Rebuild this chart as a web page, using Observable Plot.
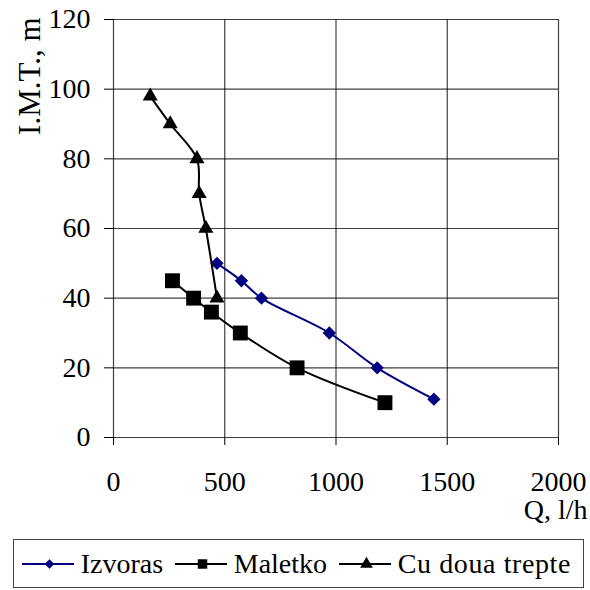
<!DOCTYPE html>
<html><head><meta charset="utf-8">
<script src="https://cdn.jsdelivr.net/npm/d3@7"></script>
<script src="https://cdn.jsdelivr.net/npm/@observablehq/plot@0.6"></script>
<style>
body{margin:0;background:#fff;font-family:"Liberation Serif","Tinos","Times New Roman","DejaVu Serif",serif;}
#chart{position:relative;width:590px;height:590px;overflow:hidden;}
#chart svg{display:block;}
#chart svg text{font-family:"Liberation Serif","Tinos","Times New Roman","DejaVu Serif",serif;}
#legend{position:absolute;left:13px;top:539px;width:571px;height:49px;border:1px solid #444;box-sizing:border-box;display:flex;align-items:center;font-size:28px;color:#000;padding-left:8px;white-space:nowrap;}
#legend .sw{display:block;margin-right:7px;}
#legend .lab{margin-right:12px;}
#legend .lab:last-child{letter-spacing:0.6px;}
</style></head>
<body>
<div id="chart"></div>
<script>
const seriesNames = ["Izvoras", "Maletko", "Cu doua trepte"];
const seriesColors = ["#000080", "#000000", "#000000"];
const seriesSymbols = ["diamond2", "square", "triangle"];
const izvorasQ = [465, 575, 665, 970, 1185, 1440];
const izvorasH = [50, 45, 40, 30, 20, 11];
const maletkoQ = [265, 360, 440, 570, 825, 1220];
const maletkoH = [45, 40, 36, 30, 20, 10];
const trepteQ = [165, 255, 375, 385, 415, 465];
const trepteH = [98, 90, 80, 70, 60, 40];
const xTicks = [0, 500, 1000, 1500, 2000];
const yTicks = [0, 20, 40, 60, 80, 100, 120];
const xTitle = "Q, l/h";
const yTitle = "I.M.T., m";

const seriesQ = [izvorasQ, maletkoQ, trepteQ];
const seriesH = [izvorasH, maletkoH, trepteH];
const symbolR = {diamond2: 6, square: 8.4, triangle: 5.6};
const FONT = "'Liberation Serif','Tinos','Times New Roman','DejaVu Serif',serif";

const marks = [
  Plot.gridX(xTicks, {stroke: "#000", strokeOpacity: 0.75, strokeWidth: 1.2}),
  Plot.gridY(yTicks, {stroke: "#000", strokeOpacity: 0.75, strokeWidth: 1.2}),
  Plot.axisX({ticks: xTicks, tickSize: 8, tickPadding: 26, label: null, fontSize: 28, tickFormat: d => String(d)}),
  Plot.axisY({ticks: yTicks, tickSize: 9, tickPadding: 14, label: null, fontSize: 28, tickFormat: d => String(d)}),
  Plot.text([xTitle], {frameAnchor: "bottom-right", textAnchor: "end", lineAnchor: "top", dx: 29, dy: 62, fontSize: 28}),
  Plot.text([yTitle], {frameAnchor: "top-left", textAnchor: "end", rotate: -90, dx: -96, dy: -2, fontSize: 31})
];
seriesNames.forEach((name, i) => {
  const rows = seriesQ[i].map((q, j) => ({q, h: seriesH[i][j]}));
  marks.push(Plot.line(rows, {x: "q", y: "h", stroke: seriesColors[i], strokeWidth: 2, curve: "catmull-rom"}));
  marks.push(Plot.dot(rows, {x: "q", y: "h", symbol: () => seriesSymbols[i], fill: seriesColors[i], stroke: "none", r: symbolR[seriesSymbols[i]]}));
});

const chart = Plot.plot({
  width: 590, height: 530,
  marginTop: 19, marginLeft: 113, marginRight: 32, marginBottom: 93,
  style: {fontFamily: FONT, fontSize: "28px", color: "#000", background: "#fff", overflow: "visible"},
  x: {domain: [0, 2000]},
  y: {domain: [0, 120]},
  symbol: {type: "identity"},
  marks
});
const holder = document.getElementById("chart");
holder.appendChild(chart);

const legend = document.createElement("div");
legend.id = "legend";
seriesNames.forEach((name, i) => {
  const sw = d3.create("svg").attr("class", "sw").attr("width", 55).attr("height", 20);
  sw.append("line").attr("x1", 0).attr("x2", 55).attr("y1", 10).attr("y2", 10).attr("stroke", seriesColors[i]).attr("stroke-width", 2);
  const sym = {diamond2: d3.symbolDiamond2, square: d3.symbolSquare, triangle: d3.symbolTriangle}[seriesSymbols[i]];
  const size = {diamond2: 60, square: 90, triangle: 70}[seriesSymbols[i]];
  sw.append("path").attr("transform", "translate(27.5,10)").attr("d", d3.symbol(sym, size)()).attr("fill", seriesColors[i]);
  legend.appendChild(sw.node());
  const lab = document.createElement("span");
  lab.className = "lab";
  lab.textContent = name;
  legend.appendChild(lab);
});
holder.appendChild(legend);
</script>
</body></html>
